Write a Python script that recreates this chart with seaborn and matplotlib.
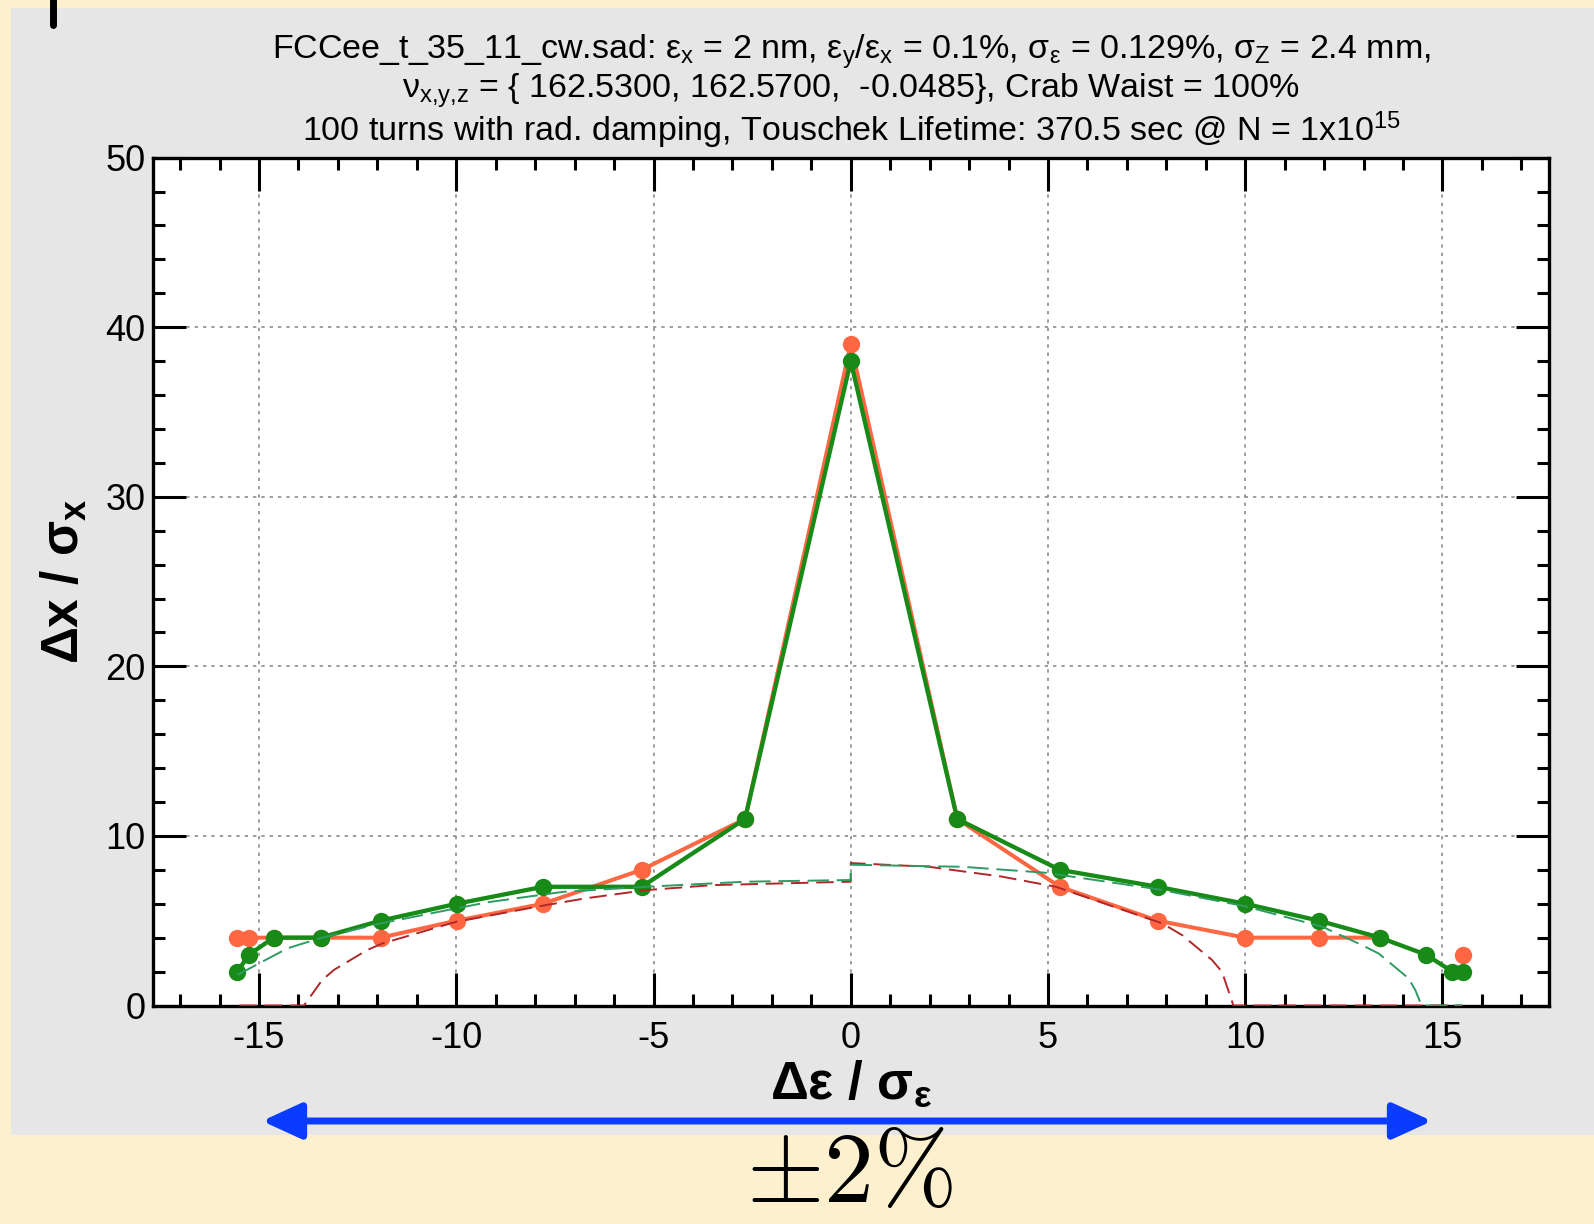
import matplotlib
matplotlib.use("Agg")
import matplotlib.pyplot as plt
import seaborn as sns
from matplotlib.patches import Rectangle, FancyArrowPatch
from matplotlib.lines import Line2D
from matplotlib.ticker import MultipleLocator

# ==========================================
# DATA
# ==========================================

green_x = [-15.55, -15.25, -14.63, -13.44, -11.92, -9.99, -7.8, -5.3, -2.68, 0.0,
           2.7, 5.3, 7.78, 10.0, 11.87, 13.42, 14.58, 15.25, 15.53]
green_y = [2, 3, 4, 4, 5, 6, 7, 7, 11, 38, 11, 8, 7, 6, 5, 4, 3, 2, 2]

orange_x = [-15.55, -15.25, -14.63, -13.44, -11.92, -9.99, -7.8, -5.3, -2.68, 0.0,
            2.7, 5.3, 7.78, 10.0, 11.87, 13.42]
orange_y = [4, 4, 4, 4, 4, 5, 6, 8, 11, 39, 11, 7, 5, 4, 4, 4]

# lone orange point after the gap
orange_tail_x = [15.53]
orange_tail_y = [3]

# dashed aperture curves
red_dash_x = [-15.5, -13.86, -13.4, -13.1, -12.26, -11.87, -10.0, -7.73, -6.72, -5.2,
              -3.5, 0.0, 0.0, 1.98, 3.83, 5.2, 7.9, 8.4, 9.16, 9.41, 9.7, 15.5]
red_dash_y = [0, 0, 1.5, 2.1, 3.27, 3.66, 4.94, 5.92, 6.32, 6.8,
              7.1, 7.3, 8.4, 8.18, 7.6, 7.0, 4.84, 4.15, 2.68, 1.99, 0, 0]

green_dash_x = [-15.55, -14.66, -14.28, -13.47, -12.0, -10.0, -9.17, -7.3, -5.2, -2.67,
                0.0, 0.0, 2.83, 4.93, 7.8, 10.0, 11.95, 12.96, 13.38, 14.14, 14.31,
                14.47, 15.5]
green_dash_y = [1.8, 2.9, 3.37, 3.96, 4.8, 5.73, 6.1, 6.7, 7.0, 7.3,
                7.4, 8.3, 8.18, 7.83, 6.85, 5.85, 4.65, 3.56, 3.07, 1.6, 0.91,
                0, 0]

title_lines = [
    r"FCCee_t_35_11_cw.sad: ε$_\mathrm{x}$ = 2 nm, ε$_\mathrm{y}$/ε$_\mathrm{x}$ = 0.1%, "
    r"σ$_\mathrm{ε}$ = 0.129%, σ$_\mathrm{Z}$ = 2.4 mm,",
    r"ν$_\mathrm{x{,}y{,}z}$ = { 162.5300, 162.5700,  -0.0485}, Crab Waist = 100%",
    r"100 turns with rad. damping, Touschek Lifetime: 370.5 sec @ N = 1x10$^\mathrm{15}$",
]

# ==========================================
# STYLE
# ==========================================

sns.set_style("ticks")
plt.rcParams["font.family"] = ["Liberation Sans", "DejaVu Sans"]
plt.rcParams["mathtext.fontset"] = "custom"
plt.rcParams["mathtext.rm"] = "Liberation Sans"
plt.rcParams["mathtext.it"] = "Liberation Sans:italic"
plt.rcParams["mathtext.bf"] = "Liberation Sans:bold"
plt.rcParams["axes.unicode_minus"] = False
plt.rcParams["text.color"] = "black"
plt.rcParams["axes.labelcolor"] = "black"

W, H = 1594, 1224
fig = plt.figure(figsize=(W / 100, H / 100), dpi=100, facecolor="#fcf0cf")

# grey panel behind the plot
fig.add_artist(Rectangle((11 / W, 1 - 1135 / H), 1 - 11 / W, (1135 - 8) / H,
                         transform=fig.transFigure, facecolor="#e6e6e6",
                         edgecolor="none", zorder=-5))
# small black mark top-left
fig.add_artist(Line2D([52.5 / W, 52.5 / W], [1, 1 - 25 / H], color="black",
                      lw=5, transform=fig.transFigure))

ax = fig.add_axes([152.5 / W, 1 - 1005.5 / H, (1549 - 152.5) / W, (1005.5 - 157.6) / H])
ax.set_facecolor("white")

# ==========================================
# LINES
# ==========================================

sns.lineplot(x=orange_x, y=orange_y, sort=False, estimator=None, ax=ax,
             color="#ff6743", lw=2.9, marker="o", markersize=12.5,
             markeredgewidth=0, zorder=2)
sns.lineplot(x=orange_tail_x, y=orange_tail_y, sort=False, estimator=None, ax=ax,
             color="#ff6743", lw=2.9, marker="o", markersize=12.5,
             markeredgewidth=0, zorder=2)
sns.lineplot(x=green_x, y=green_y, sort=False, estimator=None, ax=ax,
             color="#178a17", lw=3.1, marker="o", markersize=12.5,
             markeredgewidth=0, zorder=2.5)

sns.lineplot(x=red_dash_x, y=red_dash_y, sort=False, estimator=None, ax=ax,
             color="#b0282a", lw=1.4, linestyle=(0, (9, 4)), zorder=3)
sns.lineplot(x=green_dash_x, y=green_dash_y, sort=False, estimator=None, ax=ax,
             color="#2f9a62", lw=1.4, linestyle=(0, (11, 4)), zorder=3)

# ==========================================
# AXES
# ==========================================

ax.set_xlim(-17.7, 17.7)
ax.set_ylim(0, 50)
ax.xaxis.set_major_locator(MultipleLocator(5))
ax.xaxis.set_minor_locator(MultipleLocator(1))
ax.yaxis.set_major_locator(MultipleLocator(10))
ax.yaxis.set_minor_locator(MultipleLocator(2))

ax.grid(True, which="major", color="#8c8c8c", linestyle=(0, (2, 3)), lw=1.2)
ax.set_axisbelow(True)

ax.tick_params(which="both", direction="in", top=True, right=True, width=2.2,
               colors="black", labelsize=26)
ax.tick_params(which="major", length=24)
ax.tick_params(which="minor", length=8.5)
ax.tick_params(axis="x", pad=11)
ax.tick_params(axis="y", pad=5)
for s in ax.spines.values():
    s.set_linewidth(2.4)
    s.set_color("black")

ax.set_xlabel(r"Δε / σ$_\mathbf{ε}$", fontsize=38, fontweight="bold")
ax.set_ylabel(r"Δx / σ$_\mathbf{x}$", fontsize=37, fontweight="bold")
ax.xaxis.set_label_coords(0.5, -(1084 - 1005.5) / 847.9)
ax.xaxis.label.set_va("center")
ax.yaxis.set_label_coords((64 - 152.5) / 1396.5, 0.5)
ax.yaxis.label.set_va("center")

# title, three lines in one text block
fig.text(851 / W, 1 - 92 / H, "\n".join(title_lines), ha="center", va="center",
         multialignment="center", linespacing=1.0, fontsize=24.5, color="black")

# blue range arrow and label
arrow = FancyArrowPatch((262 / W, 1 - 1121 / H), (1432 / W, 1 - 1121 / H),
                        transform=fig.transFigure,
                        arrowstyle="<|-|>,head_length=24,head_width=11",
                        mutation_scale=1, lw=5, color="#0a3cff",
                        shrinkA=0, shrinkB=0)
fig.add_artist(arrow)
fig.text(850 / W, 1 - 1202 / H, r"$\pm2\%$", ha="center", va="baseline",
         fontsize=72, math_fontfamily="cm")

plt.savefig("out.png", dpi=100, facecolor=fig.get_facecolor())
